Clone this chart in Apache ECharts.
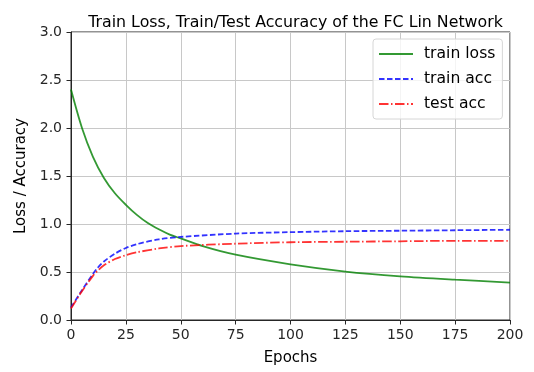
<!DOCTYPE html>
<html><head><meta charset="utf-8">
<script src="https://cdn.jsdelivr.net/npm/echarts@6/dist/echarts.min.js"></script>
<style>html,body{margin:0;padding:0;background:#fff}#c{width:534px;height:372px}</style>
</head><body><div id="c"></div>
<script>
const title = "Train Loss, Train/Test Accuracy of the FC Lin Network";
const seriesNames = ["train loss", "train acc", "test acc"];
const lossEpochs = [0, 5, 10, 15, 20, 25, 30, 35, 40, 45, 50, 60, 75, 100, 125, 150, 175, 200];
const lossValues = [2.40, 2.00, 1.70, 1.48, 1.32, 1.20, 1.095, 1.01, 0.945, 0.89, 0.85, 0.77, 0.68, 0.58, 0.505, 0.455, 0.42, 0.39];
const accEpochs = [0, 5, 10, 12, 15, 20, 25, 30, 40, 50, 75, 100, 125, 150, 175, 200];
const trainAcc = [0.13, 0.31, 0.48, 0.54, 0.61, 0.69, 0.75, 0.79, 0.84, 0.865, 0.90, 0.915, 0.925, 0.93, 0.935, 0.94];
const testAcc = [0.12, 0.30, 0.46, 0.51, 0.57, 0.635, 0.675, 0.705, 0.745, 0.77, 0.795, 0.81, 0.815, 0.82, 0.825, 0.825];
const xTicks = [0, 25, 50, 75, 100, 125, 150, 175, 200];
const yTicks = [0.0, 0.5, 1.0, 1.5, 2.0, 2.5, 3.0];

const zip = (a, b) => a.map((v, i) => [v, b[i]]);
const font = 'DejaVu Sans';
const chart = echarts.init(document.getElementById('c'));
chart.setOption({
  animation: false,
  title: { text: title, left: 290.5, textAlign: 'center', top: 10,
    textStyle: { fontFamily: font, fontSize: 15.8, fontWeight: 'normal', color: '#000' } },
  grid: { left: 71, right: 24, top: 32, bottom: 52, show: true, borderColor: '#262626', borderWidth: 1 },
  legend: {
    orient: 'vertical', left: 373, top: 39, data: seriesNames,
    itemWidth: 34, itemHeight: 12, itemGap: 7,
    itemStyle: { opacity: 0 },
    backgroundColor: 'rgba(255,255,255,0.8)', borderColor: '#d6d6d6', borderWidth: 1, borderRadius: 3,
    padding: [6, 7, 6, 5],
    textStyle: { fontFamily: font, fontSize: 15.6, color: '#000', padding: [0, 0, 0, 6], lineHeight: 18 }
  },
  xAxis: {
    type: 'value', min: xTicks[0], max: xTicks[xTicks.length - 1], interval: 25,
    name: 'Epochs', nameLocation: 'middle', nameGap: 31,
    nameTextStyle: { fontFamily: font, fontSize: 15, color: '#000' },
    axisLine: { lineStyle: { color: '#262626' } },
    axisTick: { show: true, length: 4.5, lineStyle: { color: '#262626' } },
    axisLabel: { fontFamily: font, fontSize: 14, color: '#262626', margin: 8 },
    splitLine: { show: true, lineStyle: { color: '#c8c8c8', width: 1 } }
  },
  yAxis: {
    type: 'value', min: yTicks[0], max: yTicks[yTicks.length - 1], interval: 0.5,
    name: 'Loss / Accuracy', nameLocation: 'middle', nameGap: 39,
    nameTextStyle: { fontFamily: font, fontSize: 15, color: '#000' },
    axisLine: { show: true, lineStyle: { color: '#262626' } },
    axisTick: { show: true, length: 4.5, lineStyle: { color: '#262626' } },
    axisLabel: { fontFamily: font, fontSize: 14, color: '#262626', margin: 9,
      formatter: v => v.toFixed(1) },
    splitLine: { show: true, lineStyle: { color: '#c8c8c8', width: 1 } }
  },
  series: [
    { name: seriesNames[0], type: 'line', data: zip(lossEpochs, lossValues), smooth: 0.3,
      symbol: 'none', color: 'rgba(0,128,0,0.8)', lineStyle: { width: 1.8, color: 'rgba(0,128,0,0.8)' } },
    { name: seriesNames[1], type: 'line', data: zip(accEpochs, trainAcc), smooth: 0.3,
      symbol: 'none', color: 'rgba(0,0,255,0.8)', lineStyle: { width: 1.8, color: 'rgba(0,0,255,0.8)', type: [5.5, 2.5] } },
    { name: seriesNames[2], type: 'line', data: zip(accEpochs, testAcc), smooth: 0.3,
      symbol: 'none', color: 'rgba(255,0,0,0.8)', lineStyle: { width: 1.8, color: 'rgba(255,0,0,0.8)', type: [9.5, 2.5, 1.5, 2.5] } }
  ]
});
</script></body></html>
